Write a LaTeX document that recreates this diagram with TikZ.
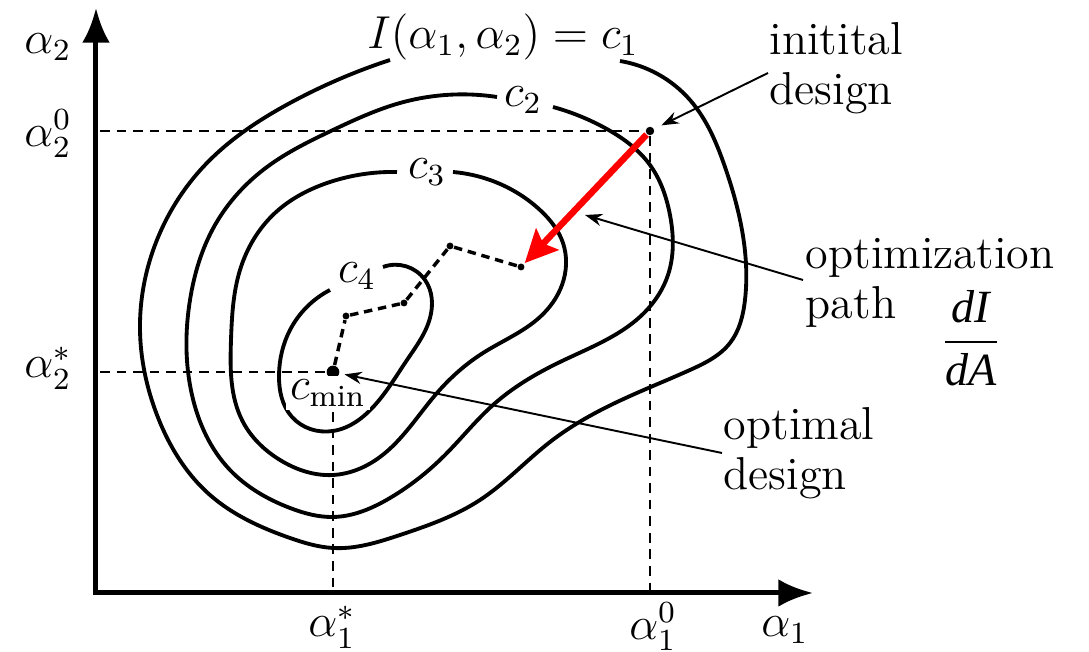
\documentclass[tikz,border=0pt]{standalone}
\usepackage{fontspec}
\newfontfamily\libserif{Liberation Serif}
\usetikzlibrary{arrows.meta,hobby}
\begin{document}
\begin{tikzpicture}[x=0.26pt,y=-0.26pt,
  font=\fontsize{12}{13}\selectfont,
  contour/.style={line width=1pt,use Hobby shortcut},
  axisline/.style={line width=1.3pt},
  guide/.style={line width=0.7pt,dash pattern=on 2.5pt off 1.8pt},
  pathseg/.style={line width=0.9pt,dash pattern=on 2.2pt off 1.5pt},
  leader/.style={line width=0.5pt,-{Stealth[length=4.5pt,width=3.2pt]}},
  dot/.style={circle,fill=black,inner sep=0pt,minimum size=#1},
  dot/.default=1.8pt,
  lbl/.style={inner sep=0.5pt},
  side/.style={align=left,anchor=west,inner sep=0pt}
]
\useasboundingbox (0,0) rectangle (1089,652);

% axes
\coordinate (O) at (96,593);
\coordinate (ytip) at (96,8);
\coordinate (xtip) at (813,593);
\draw[axisline,{Latex[length=9pt,width=7.2pt]}-{Latex[length=9pt,width=7.2pt]}] (ytip) -- (O) -- (xtip);

% points
\node[dot=2.2pt] (p0) at (650,131) {};
\node[dot] (p1) at (521,267) {};
\node[dot] (p2) at (450,246) {};
\node[dot] (p3) at (404,303) {};
\node[dot] (p4) at (346,316) {};
\node[dot=3.3pt] (pm) at (333,372) {};

% guides
\coordinate (gy0) at (100,131);
\coordinate (gx0) at (650,593);
\coordinate (gys) at (100,372);
\coordinate (gxs) at (333,593);
\draw[guide] (gy0) -- (p0) -- (gx0);
\draw[guide] (gys) -- (pm) -- (gxs);

% contours
\draw[contour] (390,60) .. (290,103) .. (205,165) .. (155,245) .. (140,330)
 .. (157,415) .. (210,495) .. (290,538) .. (333,548) .. (400,535) .. (480,500)
 .. (550,442) .. (615,403) .. (690,370) .. (730,343) .. (745,300) .. (742,230)
 .. (725,167) .. (690,100) .. (620,61);
\draw[contour] (497,97) .. (400,103) .. (333,130) .. (267,167) .. (215,225)
 .. (190,300) .. (192,395) .. (230,470) .. (290,508) .. (333,517) .. (390,498)
 .. (445,455) .. (493,405) .. (560,362) .. (645,312) .. (668,275) .. (670,215)
 .. (650,165) .. (605,128) .. (553,107);
\draw[contour] (397,172) .. (330,182) .. (275,213) .. (240,270) .. (231,340)
 .. (243,422) .. (280,460) .. (333,475) .. (380,457) .. (437,393) .. (483,353)
 .. (540,317) .. (562,285) .. (563,243) .. (540,210) .. (490,180) .. (453,172);
\draw[contour] (330,290) .. (290,330) .. (279,375) .. (292,417) .. (333,431)
 .. (375,405) .. (407,360) .. (430,318) .. (425,280) .. (383,267);

% optimisation path
\draw[pathseg] (pm) -- (p4) -- (p3) -- (p2) -- (p1);

% gradient arrow
\draw[red,line width=1.7pt,-{Stealth[length=8.5pt,width=8pt,inset=1.5pt]},shorten >=0.3pt] (p0) -- (p1);

% labels
\node[lbl] (ly) at (48,47) {$\alpha_2$};
\node[lbl] (ly0) at (48,134) {$\alpha_2^0$};
\node[lbl] (lys) at (48,368) {$\alpha_2^*$};
\node[lbl] (lxs) at (332,627) {$\alpha_1^*$};
\node[lbl] (lx0) at (653,627) {$\alpha_1^0$};
\node[lbl] (lx) at (785,630) {$\alpha_1$};
\node[lbl] (lc1) at (503,37) {$I(\alpha_1,\alpha_2)=c_1$};
\node[lbl] (lc2) at (523,100) {$c_2$};
\node[lbl] (lc3) at (427,172) {$c_3$};
\node[lbl] (lc4) at (357,276) {$c_4$};
\node[lbl,fill=white,inner sep=1pt] (lcm) at (328,393) {$c_{\min}$};

\node[side] (tinit) at (769,68) {initital\\design};
\node[side] (topt) at (805,283) {optimization\\path};
\node[side] (tbest) at (723,453) {optimal\\design};
\node (frac) at (971,338) {$\displaystyle\frac{\hbox{\libserif\itshape dI}}{\hbox{\libserif\itshape dA}}$};

% leaders
\coordinate (linit) at (768,73);
\coordinate (lopt) at (803,280);
\coordinate (loptend) at (585,215);
\coordinate (lbest) at (722,453);
\draw[leader,shorten >=2pt] (linit) -- (p0);
\draw[leader] (lopt) -- (loptend);
\draw[leader,shorten >=1.2pt] (lbest) -- (pm);
\end{tikzpicture}
\end{document}
